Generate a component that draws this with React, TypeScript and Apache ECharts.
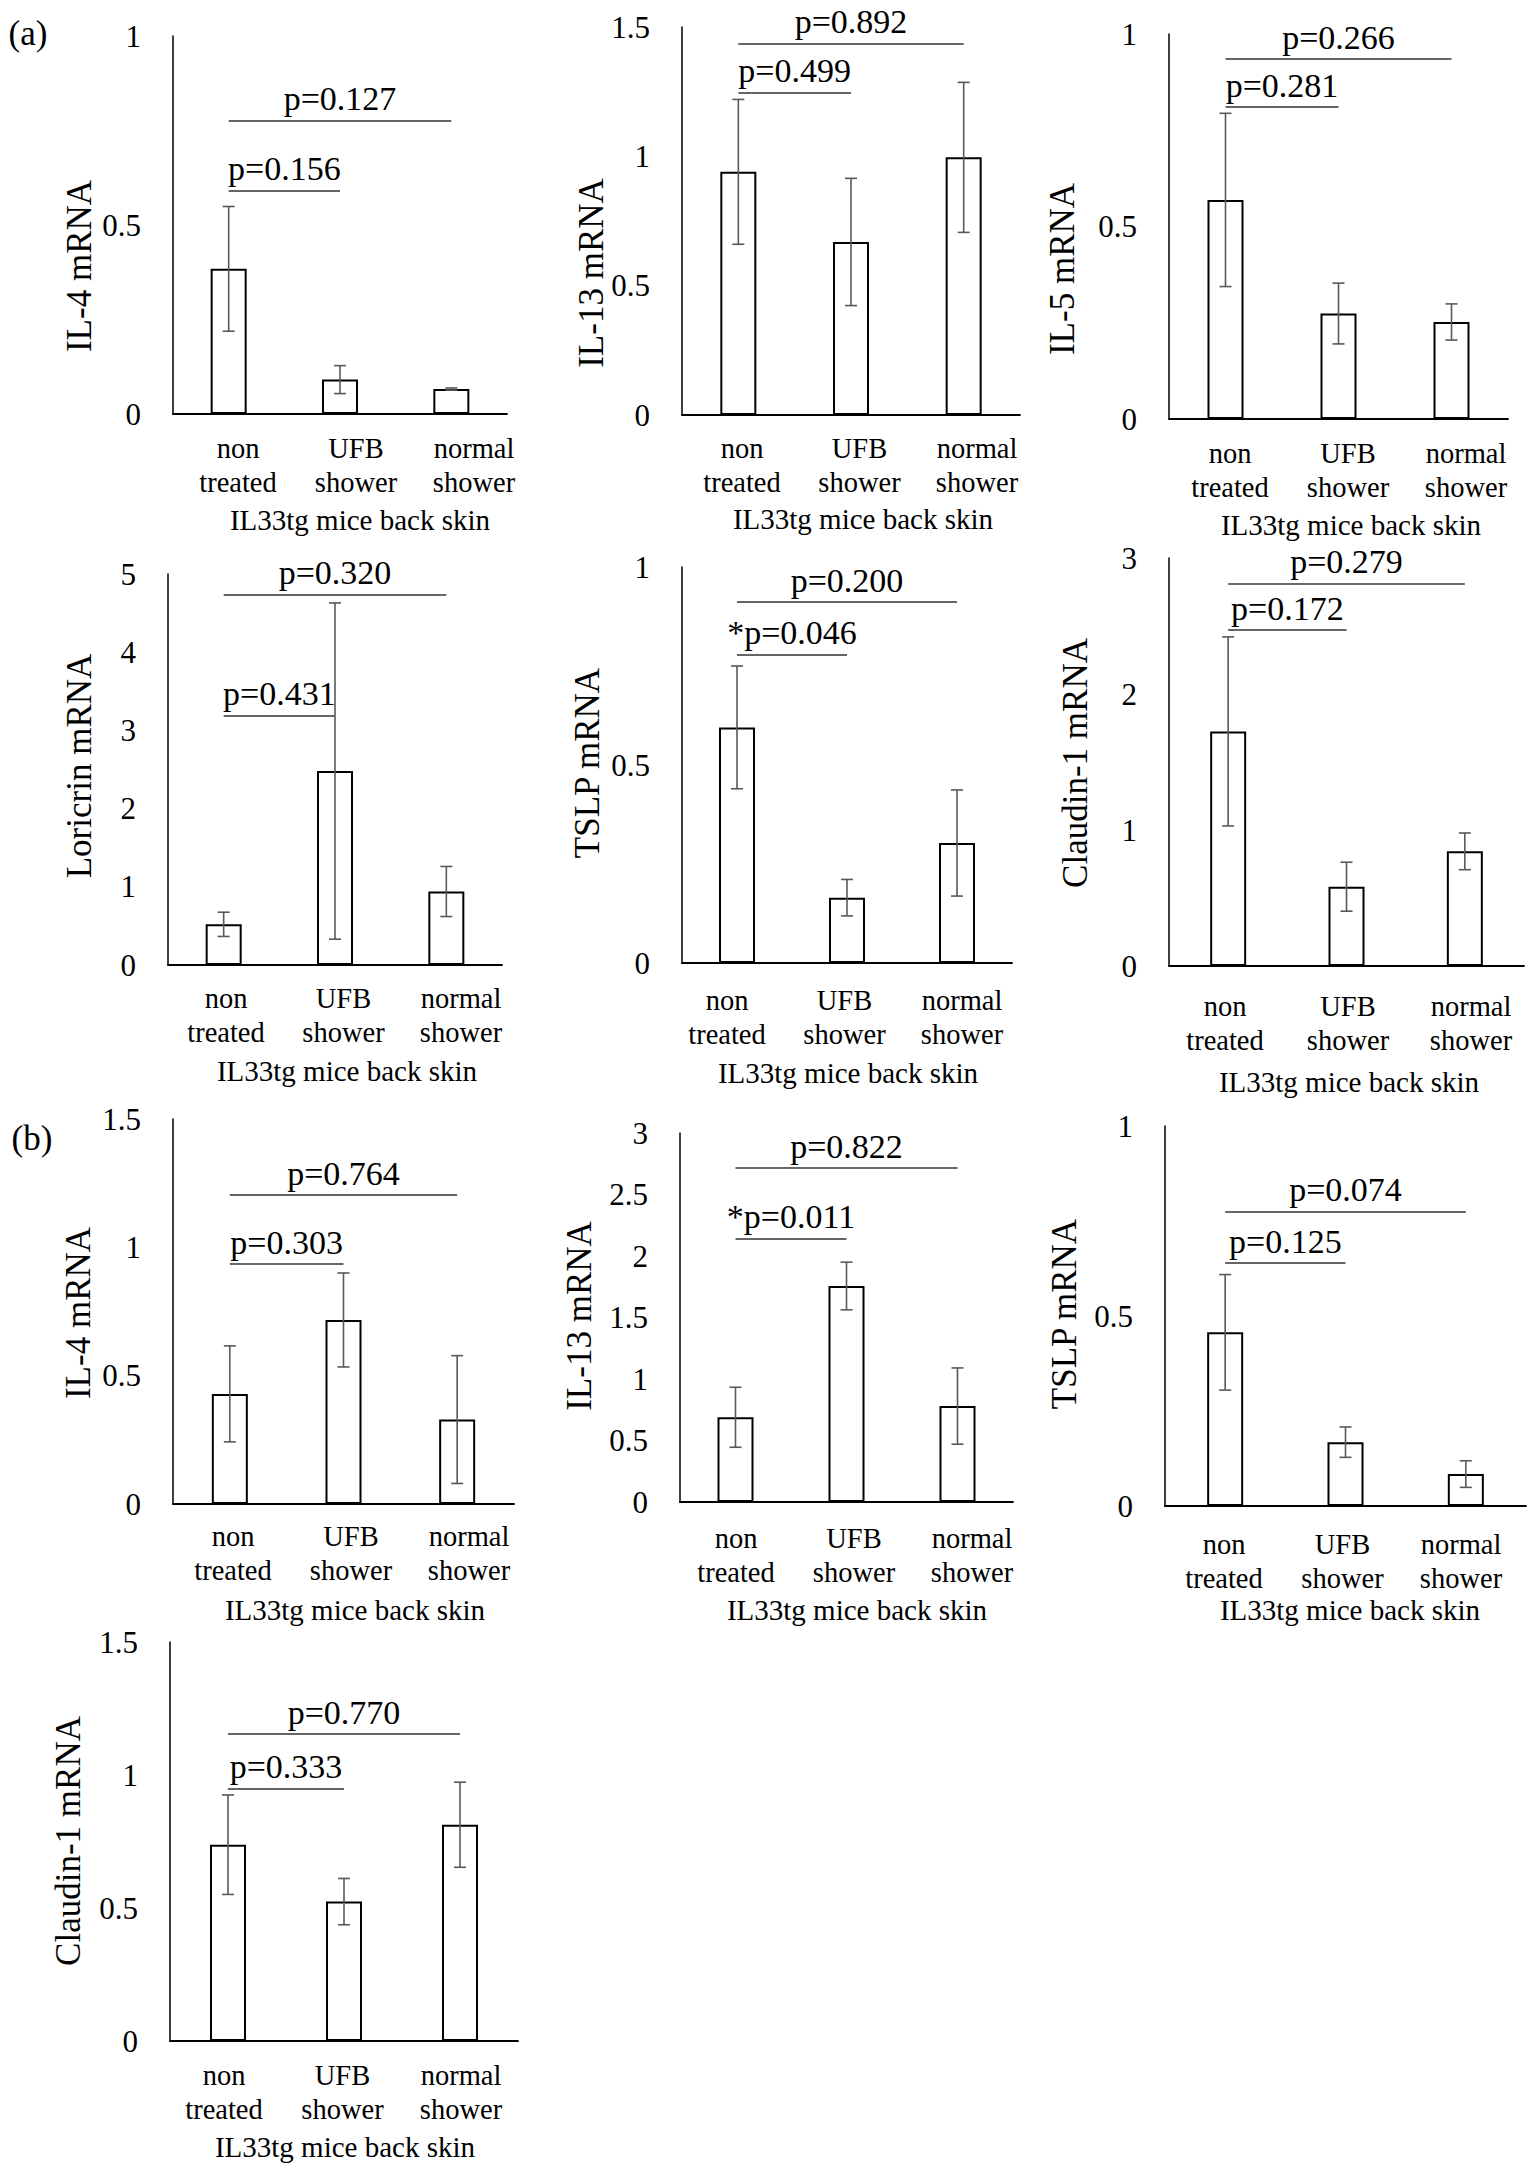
import React, { useEffect, useRef } from "react";
import * as echarts from "echarts";

// ---------- data ----------
const categories = ["non\ntreated", "UFB\nshower", "normal\nshower"];

const yTitles = [
  "IL-4 mRNA", "IL-13 mRNA", "IL-5 mRNA",
  "Loricrin mRNA", "TSLP mRNA", "Claudin-1 mRNA",
  "IL-4 mRNA", "IL-13 mRNA", "TSLP mRNA",
  "Claudin-1 mRNA",
];
const xTitle = "IL33tg mice back skin";
const yMax = [1, 1.5, 1, 5, 1, 3, 1.5, 3, 1, 1.5];
const yInterval = [0.5, 0.5, 0.5, 1, 0.5, 1, 0.5, 0.5, 0.5, 0.5];

// (a) panels: mean and error
const aIL4Mean = [0.384, 0.091, 0.066];
const aIL4Err = [0.165, 0.037, 0.003];
const aIL13Mean = [0.94, 0.669, 0.996];
const aIL13Err = [0.28, 0.246, 0.29];
const aIL5Mean = [0.569, 0.274, 0.252];
const aIL5Err = [0.225, 0.079, 0.047];
const aLoricrinMean = [0.52, 2.48, 0.94];
const aLoricrinErr = [0.155, 2.15, 0.32];
const aTSLPMean = [0.595, 0.165, 0.303];
const aTSLPErr = [0.155, 0.046, 0.134];
const aClaudinMean = [1.725, 0.583, 0.843];
const aClaudinErr = [0.695, 0.18, 0.135];
// (b) panels
const bIL4Mean = [0.429, 0.717, 0.329];
const bIL4Err = [0.187, 0.183, 0.249];
const bIL13Mean = [0.689, 1.756, 0.78];
const bIL13Err = [0.244, 0.194, 0.31];
const bTSLPMean = [0.457, 0.168, 0.084];
const bTSLPErr = [0.152, 0.04, 0.035];
const bClaudinMean = [0.738, 0.524, 0.813];
const bClaudinErr = [0.187, 0.087, 0.16];

const means = [aIL4Mean, aIL13Mean, aIL5Mean, aLoricrinMean, aTSLPMean, aClaudinMean, bIL4Mean, bIL13Mean, bTSLPMean, bClaudinMean];
const errs = [aIL4Err, aIL13Err, aIL5Err, aLoricrinErr, aTSLPErr, aClaudinErr, bIL4Err, bIL13Err, bTSLPErr, bClaudinErr];

// p-values: [non vs UFB, non vs normal]
const pTexts = [
  ["p=0.156", "p=0.127"],
  ["p=0.499", "p=0.892"],
  ["p=0.281", "p=0.266"],
  ["p=0.431", "p=0.320"],
  ["*p=0.046", "p=0.200"],
  ["p=0.172", "p=0.279"],
  ["p=0.303", "p=0.764"],
  ["*p=0.011", "p=0.822"],
  ["p=0.125", "p=0.074"],
  ["p=0.333", "p=0.770"],
];
// bracket heights (axis units)
const bracketLevels = [
  [0.591, 0.776],
  [1.246, 1.435],
  [0.81, 0.935],
  [3.19, 4.74],
  [0.778, 0.911],
  [2.47, 2.81],
  [0.935, 1.203],
  [2.143, 2.714],
  [0.639, 0.774],
  [0.949, 1.154],
];

// ---------- layout (pixels) ----------
// grid: left, top, width, height
const grids = [
  [173, 36, 334, 378],
  [682, 27, 338, 388],
  [1169, 34, 339, 385],
  [168, 574, 334, 391],
  [682, 567, 330, 396],
  [1169, 558, 355, 408],
  [173, 1119, 341, 385],
  [680, 1133, 333, 369],
  [1165, 1126, 361, 380],
  [170, 1642, 348, 399],
];
// category label centres (first, last)
const labelCenters = [
  [238, 474], [742, 977], [1230, 1466],
  [226, 461], [727, 962], [1225, 1471],
  [233, 469], [736, 972], [1224, 1461],
  [224, 461],
];
// baseline of first label line below axis
const labelBase = [42, 41, 42, 41, 45, 48, 40, 44, 46, 42];
const yTitlePos = [
  [79, 266], [591, 273], [1062, 269],
  [79, 766], [587, 763], [1075, 763],
  [78, 1313], [579, 1316], [1064, 1314],
  [68, 1841],
];
// centre x, baseline y
const xTitlePos = [
  [360, 530], [863, 529], [1351, 535],
  [347, 1081], [848, 1083], [1349, 1092],
  [355, 1620], [857, 1620], [1350, 1620],
  [345, 2157],
];

const FONT = "'Liberation Serif', 'Times New Roman', serif";

function buildOption() {
  const grid: any[] = [];
  const xAxis: any[] = [];
  const yAxis: any[] = [];
  const series: any[] = [];
  const graphic: any[] = [];
  const n = grids.length;

  for (let i = 0; i < n; i++) {
    const [l, t, w, h] = grids[i];
    grid.push({ left: l, top: t, width: w, height: h, containLabel: false });
    xAxis.push({
      type: "category",
      gridIndex: i,
      data: categories,
      boundaryGap: true,
      axisLine: { show: true, lineStyle: { color: "#000", width: 1.8 } },
      axisTick: { show: false },
      axisLabel: { show: false },
      splitLine: { show: false },
    });
    yAxis.push({
      type: "value",
      gridIndex: i,
      min: 0,
      max: yMax[i],
      interval: yInterval[i],
      axisLine: { show: true, lineStyle: { color: "#000", width: 1.5 } },
      axisTick: { show: false },
      splitLine: { show: false },
      axisLabel: {
        show: true,
        margin: 32,
        fontSize: 31,
        fontFamily: FONT,
        color: "#000",
      },
    });
  }
  // label-only grids (category labels sit on slightly wider slots)
  for (let i = 0; i < n; i++) {
    const [, t, , h] = grids[i];
    const [c1, c3] = labelCenters[i];
    const d = (c3 - c1) / 2;
    grid.push({ left: c1 - d / 2, top: t, width: 3 * d, height: h });
    xAxis.push({
      type: "category",
      gridIndex: n + i,
      data: categories,
      boundaryGap: true,
      axisLine: { show: false },
      axisTick: { show: false },
      splitLine: { show: false },
      axisLabel: {
        show: true,
        interval: 0,
        margin: labelBase[i] - 25,
        fontSize: 28.5,
        lineHeight: 34,
        fontFamily: FONT,
        color: "#000",
      },
    });
    yAxis.push({ type: "value", gridIndex: n + i, show: false, min: 0, max: 1 });
  }

  for (let i = 0; i < n; i++) {
    const m = means[i];
    const e = errs[i];
    series.push({
      type: "bar",
      xAxisIndex: i,
      yAxisIndex: i,
      data: m,
      barWidth: 36,
      itemStyle: { color: "#fff", borderColor: "#000", borderWidth: 2 },
      silent: true,
      z: 2,
      markLine: {
        silent: true,
        symbol: ["none", "none"],
        animation: false,
        lineStyle: { type: "solid", color: "#333", width: 1.6 },
        label: {
          show: true,
          position: "insideMiddleTop",
          distance: 5,
          formatter: (p: any) => p.name,
          fontSize: 34,
          fontFamily: FONT,
          color: "#000",
        },
        emphasis: { disabled: true },
        data: [
          [
            { name: pTexts[i][0], coord: [0, bracketLevels[i][0]] },
            { coord: [1, bracketLevels[i][0]] },
          ],
          [
            { name: pTexts[i][1], coord: [0, bracketLevels[i][1]] },
            { coord: [2, bracketLevels[i][1]] },
          ],
        ],
      },
    });
    series.push({
      type: "custom",
      xAxisIndex: i,
      yAxisIndex: i,
      z: 5,
      silent: true,
      encode: { x: 0, y: [1, 2] },
      data: m.map((v, k) => [k, v - e[k], v + e[k]]),
      renderItem: (params: any, api: any) => {
        const x = api.value(0);
        const lo = api.coord([x, api.value(1)]);
        const hi = api.coord([x, api.value(2)]);
        const cap = 6;
        const style = { stroke: "#595959", lineWidth: 1.6, fill: "none" };
        return {
          type: "group",
          children: [
            { type: "line", shape: { x1: hi[0], y1: hi[1], x2: lo[0], y2: lo[1] }, style },
            { type: "line", shape: { x1: hi[0] - cap, y1: hi[1], x2: hi[0] + cap, y2: hi[1] }, style },
            { type: "line", shape: { x1: lo[0] - cap, y1: lo[1], x2: lo[0] + cap, y2: lo[1] }, style },
          ],
        };
      },
    });

    graphic.push({
      type: "text",
      x: yTitlePos[i][0],
      y: yTitlePos[i][1],
      rotation: Math.PI / 2,
      silent: true,
      style: {
        text: yTitles[i],
        fontSize: 35,
        fontFamily: FONT,
        fill: "#000",
        textAlign: "center",
        textVerticalAlign: "middle",
      },
    });
    graphic.push({
      type: "text",
      x: xTitlePos[i][0],
      y: xTitlePos[i][1] - 10,
      silent: true,
      style: {
        text: xTitle,
        fontSize: 29,
        fontFamily: FONT,
        fill: "#000",
        textAlign: "center",
        textVerticalAlign: "middle",
      },
    });
  }

  graphic.push({
    type: "text",
    x: 28,
    y: 33,
    silent: true,
    style: { text: "(a)", fontSize: 35, fontFamily: FONT, fill: "#000", textAlign: "center", textVerticalAlign: "middle" },
  });
  graphic.push({
    type: "text",
    x: 32,
    y: 1138,
    silent: true,
    style: { text: "(b)", fontSize: 35, fontFamily: FONT, fill: "#000", textAlign: "center", textVerticalAlign: "middle" },
  });

  return {
    animation: false,
    backgroundColor: "#fff",
    textStyle: { fontFamily: FONT },
    grid,
    xAxis,
    yAxis,
    series,
    graphic,
  };
}

export default function App() {
  const ref = useRef<HTMLDivElement>(null);
  useEffect(() => {
    if (!ref.current) return;
    const chart = echarts.init(ref.current, undefined, { renderer: "svg" });
    chart.setOption(buildOption() as any);
    return () => chart.dispose();
  }, []);
  return (
    <div
      ref={ref}
      style={{ position: "absolute", left: 0, top: 0, width: 1535, height: 2173, background: "#fff" }}
    />
  );
}
